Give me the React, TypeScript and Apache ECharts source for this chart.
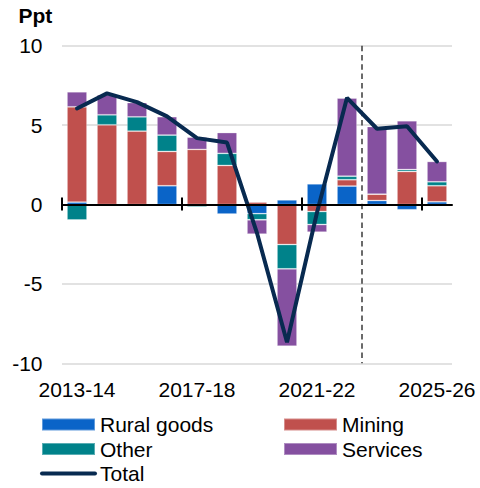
import React, { useEffect, useRef } from "react";
import * as echarts from "echarts";

const categories = [
  "2013-14", "2014-15", "2015-16", "2016-17", "2017-18", "2018-19", "2019-20",
  "2020-21", "2021-22", "2022-23", "2023-24", "2024-25", "2025-26",
];
const rural = [0.15, 0, 0, 1.18, 0, -0.6, -0.58, 0.29, 1.3, 1.16, 0.25, -0.33, 0.17];
const mining = [6.0, 5.02, 4.62, 2.16, 3.47, 2.46, 0.15, -2.52, -0.44, 0.4, 0.4, 2.08, 1.01];
const other = [-0.97, 0.63, 0.9, 1.03, -0.15, 0.76, -0.38, -1.53, -0.82, 0.22, 0, 0.12, 0.25];
const services = [0.95, 1.26, 0.9, 1.16, 0.77, 1.31, -0.9, -4.87, -0.48, 4.92, 4.26, 3.07, 1.28];
const total = [6.05, 7.0, 6.45, 5.55, 4.18, 3.9, -1.8, -8.67, -0.5, 6.72, 4.77, 4.93, 2.71];
const tickIndices = [0, 4, 8, 12];
const forecastStart = [10];
const yTicks = { min: -10, max: 10, interval: 5 };

const FONT = "'Liberation Sans', Arial, sans-serif";
const COLORS = {
  rural: "#0A64C8",
  mining: "#C0504D",
  other: "#00828A",
  services: "#8550A0",
  total: "#082A50",
};

export default function App() {
  const ref = useRef<HTMLDivElement>(null);
  useEffect(() => {
    if (!ref.current) return;
    const chart = echarts.init(ref.current, undefined, { renderer: "svg" });
    const barBase = {
      type: "bar",
      stack: "total",
      barWidth: 20,
      xAxisIndex: 0,
      itemStyle: { borderColor: "rgba(255,255,255,0.35)", borderWidth: 0.8 },
    };
    chart.setOption({
      animation: false,
      textStyle: { fontFamily: FONT },
      title: {
        text: "Ppt",
        left: 18.5,
        top: 4.5,
        padding: 0,
        textStyle: { fontFamily: FONT, fontSize: 21, fontWeight: "bold", color: "#000" },
      },
      grid: { left: 62, right: 28, top: 45.7, bottom: 124.7, containLabel: false },
      legend: [
        {
          orient: "vertical",
          left: 40,
          top: 414,
          padding: 0,
          itemGap: 3.5,
          itemWidth: 53,
          itemHeight: 12,
          textStyle: { fontFamily: FONT, fontSize: 21, lineHeight: 21, color: "#000" },
          data: [
            { name: "Rural goods", icon: "rect" },
            { name: "Other", icon: "rect" },
            { name: "Total", itemStyle: { opacity: 0 }, lineStyle: { width: 4, color: COLORS.total, cap: "round" } },
          ],
        },
        {
          orient: "vertical",
          left: 283,
          top: 414,
          padding: 0,
          itemGap: 3.5,
          itemWidth: 53,
          itemHeight: 12,
          textStyle: { fontFamily: FONT, fontSize: 21, lineHeight: 21, color: "#000" },
          data: [
            { name: "Mining", icon: "rect" },
            { name: "Services", icon: "rect" },
          ],
        },
      ],
      xAxis: [
        {
          type: "category",
          data: categories,
          position: "bottom",
          axisLine: { show: false, onZero: false },
          axisTick: { show: false },
          axisLabel: {
            interval: 3,
            margin: 16,
            fontFamily: FONT,
            fontSize: 21,
            color: "#000",
          },
          splitLine: { show: false },
        },
        {
          type: "category",
          data: categories,
          position: "bottom",
          z: 10,
          axisLine: { show: true, onZero: true, onZeroAxisIndex: 0, lineStyle: { color: "#000", width: 2 } },
          axisTick: { show: false },
          axisLabel: { show: false },
          splitLine: { show: false },
        },
      ],
      yAxis: {
        type: "value",
        min: yTicks.min,
        max: yTicks.max,
        interval: yTicks.interval,
        axisLine: { show: false },
        axisTick: { show: false },
        axisLabel: { margin: 19.5, fontFamily: FONT, fontSize: 21, color: "#000" },
        splitLine: { lineStyle: { color: "#D9D9D9", width: 1.5 } },
      },
      series: [
        { ...barBase, name: "Rural goods", data: rural, itemStyle: { ...barBase.itemStyle, color: COLORS.rural } },
        { ...barBase, name: "Mining", data: mining, itemStyle: { ...barBase.itemStyle, color: COLORS.mining } },
        { ...barBase, name: "Other", data: other, itemStyle: { ...barBase.itemStyle, color: COLORS.other } },
        { ...barBase, name: "Services", data: services, itemStyle: { ...barBase.itemStyle, color: COLORS.services } },
        {
          type: "line",
          name: "Total",
          data: total,
          xAxisIndex: 0,
          symbol: "none",
          z: 5,
          lineStyle: { color: COLORS.total, width: 4, cap: "round" },
          itemStyle: { color: COLORS.total },
        },
        {
          type: "custom",
          name: "ticks",
          xAxisIndex: 0,
          z: 11,
          silent: true,
          data: tickIndices.map((i) => [i]),
          encode: { x: 0 },
          renderItem: (params: any, api: any) => {
            const p = api.coord([api.value(0), 0]);
            const w = api.size([1, 0])[0];
            const x = p[0] - w / 2;
            return {
              type: "line",
              shape: { x1: x, y1: p[1] - 7, x2: x, y2: p[1] + 6 },
              style: { stroke: "#000", lineWidth: 2 },
            };
          },
        },
        {
          type: "custom",
          name: "forecast",
          xAxisIndex: 0,
          z: 4,
          silent: true,
          data: forecastStart.map((i) => [i]),
          encode: { x: 0 },
          renderItem: (params: any, api: any) => {
            const top = api.coord([api.value(0), yTicks.max]);
            const bot = api.coord([api.value(0), yTicks.min]);
            const w = api.size([1, 0])[0];
            const x = top[0] - w / 2;
            return {
              type: "line",
              shape: { x1: x, y1: top[1], x2: x, y2: bot[1] },
              style: { stroke: "#3A3A3A", lineWidth: 1.5, lineDash: [5.5, 3.8] },
            };
          },
        },
      ],
    });
    return () => chart.dispose();
  }, []);
  return <div ref={ref} style={{ width: 480, height: 488, position: "absolute", left: 0, top: 0 }} />;
}
